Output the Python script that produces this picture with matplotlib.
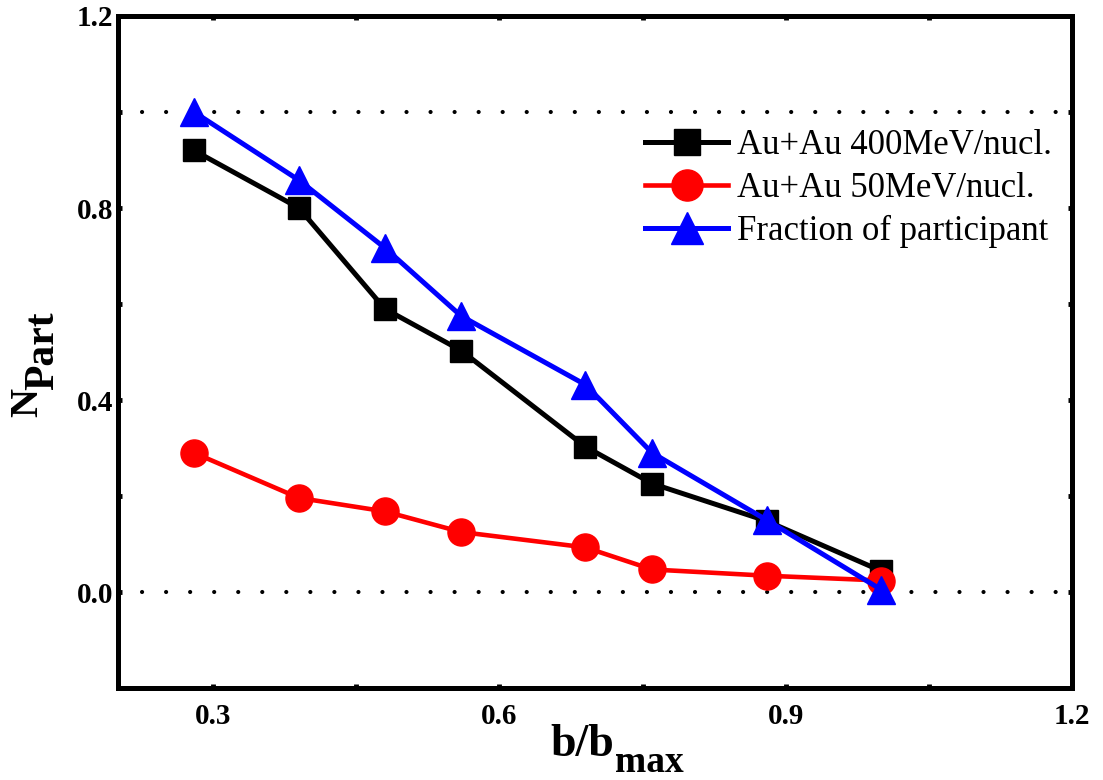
import matplotlib
matplotlib.use('Agg')
import matplotlib.pyplot as plt
from matplotlib.ticker import MultipleLocator

# data
b_ratio = [0.28, 0.39, 0.48, 0.56, 0.69, 0.76, 0.88, 1.0]
au400 = [0.92, 0.80, 0.59, 0.503, 0.303, 0.226, 0.148, 0.044]
au50 = [0.29, 0.196, 0.168, 0.125, 0.093, 0.047, 0.034, 0.024]
fraction = [1.0, 0.858, 0.717, 0.575, 0.432, 0.29, 0.15, 0.005]

labels = ['Au+Au 400MeV/nucl.', 'Au+Au 50MeV/nucl.', 'Fraction of participant']
x_ticks = [0.3, 0.6, 0.9, 1.2]
y_ticks = [0.0, 0.4, 0.8, 1.2]
ref_levels = [0.0, 1.0]

serif = 'Liberation Serif'
plt.rcParams['font.family'] = serif

fig = plt.figure(figsize=(11.03, 7.8), dpi=100)
ax = fig.add_axes([0.1066, 0.1179, 0.8653, 0.8616])

# dotted reference lines
for lev in ref_levels:
    ax.axhline(lev, color='black', lw=3, ls=(0, (0.01, 5.76)),
               dash_capstyle='round', zorder=1)

ax.plot(b_ratio, au400, color='black', lw=3.6, marker='s', ms=16.5,
        label=labels[0], zorder=3)
ax.plot(b_ratio, au50, color='red', lw=3.3, marker='o', ms=19.5,
        label=labels[1], zorder=4)
ax.plot(b_ratio, fraction, color='blue', lw=3.6, marker='^', ms=19.5,
        label=labels[2], zorder=5)

ax.set_xlim(0.2, 1.2)
ax.set_ylim(-0.2, 1.2)
ax.set_xticks(x_ticks)
ax.set_yticks(y_ticks)
ax.xaxis.set_minor_locator(MultipleLocator(0.15))
ax.yaxis.set_minor_locator(MultipleLocator(0.2))
ax.set_xticklabels([f'{v:.1f}' for v in x_ticks])
ax.set_yticklabels([f'{v:.1f}' for v in y_ticks])

ax.tick_params(which='both', direction='in', top=True, right=True,
               length=3, width=3.5, color='black')
ax.tick_params(axis='x', which='major', pad=11, labelsize=21)
ax.tick_params(axis='y', which='major', pad=3, labelsize=21)
for lab in ax.get_xticklabels() + ax.get_yticklabels():
    lab.set_fontweight('bold')

for sp in ax.spines.values():
    sp.set_linewidth(3.6)

# axis labels built from two pieces so the subscript size matches
fig.text(550 / 1103, 1 - 756 / 780, 'b/b', fontsize=33, fontweight='bold',
         ha='left', va='baseline')
fig.text(615 / 1103, 1 - 772 / 780, 'max', fontsize=27, fontweight='bold',
         ha='left', va='baseline')
fig.text(37 / 1103, 1 - 417 / 780, 'N', fontsize=29, fontweight='bold',
         rotation=90, rotation_mode='anchor', ha='left', va='baseline')
fig.text(53 / 1103, 1 - 390 / 780, 'Part', fontsize=30, fontweight='bold',
         rotation=90, rotation_mode='anchor', ha='left', va='baseline')

ax.legend(loc='upper left', bbox_to_anchor=(0.5526, 0.8316), frameon=False,
          fontsize=25, handlelength=2.4, handletextpad=0.25, labelspacing=0.28,
          borderpad=0, borderaxespad=0, markerscale=1.15)

plt.savefig('out.png', dpi=100)
